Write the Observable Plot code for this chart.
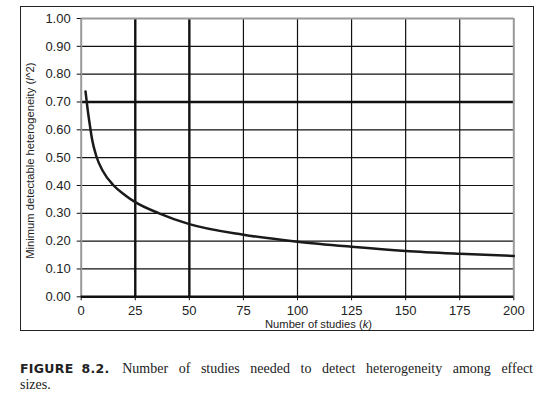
<!DOCTYPE html>
<html><head><meta charset="utf-8">
<script src="https://cdn.jsdelivr.net/npm/d3@7"></script>
<script src="https://cdn.jsdelivr.net/npm/@observablehq/plot@0.6"></script>
<style>
body{margin:0;background:#fff;width:543px;height:397px;position:relative;overflow:hidden}
#frame{position:absolute;left:20px;top:6px;width:514px;height:325px;border:1px solid #222;box-sizing:border-box}
#chart{position:absolute;left:0;top:0}
#caption{position:absolute;left:20px;top:361px;width:513px;font:14px "Liberation Serif",serif;line-height:16px;color:#222}
#caption .l1{text-align:justify;text-align-last:justify}
#caption b{font:bold 12.5px "DejaVu Sans",sans-serif;letter-spacing:0.3px;margin-right:2px}
#caption b span{margin-left:8px}
</style></head>
<body>
<div id="frame"></div>
<div id="chart"></div>
<div id="caption"><div class="l1"><b>FIGURE<span>8.2.</span></b> Number of studies needed to detect heterogeneity among effect</div><div>sizes.</div></div>
<script>
// Data
const studies = [2, 3, 4, 5, 7, 10, 15, 20, 25, 36, 50, 75, 100, 125, 150, 175, 200];
const minI2 = [0.738, 0.672, 0.617, 0.567, 0.505, 0.452, 0.40, 0.367, 0.340, 0.30, 0.261, 0.223, 0.198, 0.180, 0.165, 0.155, 0.147];
const xTicks = [0, 25, 50, 75, 100, 125, 150, 175, 200];
const yTicks = [0, 0.1, 0.2, 0.3, 0.4, 0.5, 0.6, 0.7, 0.8, 0.9, 1.0];
const thinX = [75, 100, 125, 150, 175];
const thickX = [25, 50];
const thinY = [0.1, 0.2, 0.3, 0.4, 0.5, 0.6, 0.8, 0.9];
const thickY = [0.7];
const xLabel = "Number of studies (k)";
const yLabel = "Minimum detectable heterogeneity (I^2)";

const data = studies.map((k, i) => ({k, v: minI2[i]}));

const plot = Plot.plot({
  width: 543, height: 345,
  marginLeft: 80.7, marginRight: 29.7, marginTop: 18, marginBottom: 48.7,
  style: {fontFamily: "Liberation Sans, Arial, sans-serif", fontSize: "13px", color: "#222", background: "transparent", overflow: "visible"},
  x: {domain: [0, 200]},
  y: {domain: [0, 1]},
  marks: [
    Plot.ruleY(thinY, {stroke: "#111", strokeWidth: 1.2}),
    Plot.ruleX(thinX, {stroke: "#111", strokeWidth: 1.2}),
    Plot.ruleX(thickX, {stroke: "#111", strokeWidth: 2.4}),
    Plot.ruleY(thickY, {stroke: "#111", strokeWidth: 2.4}),
    Plot.ruleY([1], {stroke: "#999", strokeWidth: 2}),
    Plot.ruleX([0, 200], {stroke: "#999", strokeWidth: 2}),
    Plot.ruleY([0], {stroke: "#111", strokeWidth: 2.6}),
    Plot.axisX({ticks: xTicks, tickSize: 4, tickPadding: 4.5, label: xLabel, labelAnchor: "center", labelArrow: "none", labelOffset: 32.7, stroke: "#111"}),
    Plot.axisY({ticks: yTicks, tickFormat: d3.format(".2f"), tickSize: 4, tickPadding: 6.5, label: yLabel, labelAnchor: "center", labelArrow: "none", labelOffset: 55, stroke: "#111"}),
    Plot.line(data, {x: "k", y: "v", curve: "monotone-x", stroke: "#1a1a1a", strokeWidth: 2.5})
  ]
});
document.getElementById("chart").appendChild(plot);

function shift(g, dx, dy) {
  const old = g.attr("transform") || "";
  g.attr("transform", `translate(${dx},${dy}) ${old}`);
}
const svg = d3.select(plot);
const xl = svg.select('g[aria-label="x-axis label"]');
shift(xl, 21, -2);
xl.selectAll("text").style("font-size", "11.2px").each(function() {
  const t = d3.select(this);
  t.text("");
  t.append("tspan").text("Number of studies (");
  t.append("tspan").style("font-style", "italic").text("k");
  t.append("tspan").text(")");
});
const yl = svg.select('g[aria-label="y-axis label"]');
shift(yl, 0, 3);
yl.selectAll("text").style("font-size", "11.2px").each(function() {
  const t = d3.select(this);
  t.text("");
  t.append("tspan").text("Minimum detectable heterogeneity (");
  t.append("tspan").style("font-style", "italic").text("I");
  t.append("tspan").text("^2)");
});
</script>
</body></html>
